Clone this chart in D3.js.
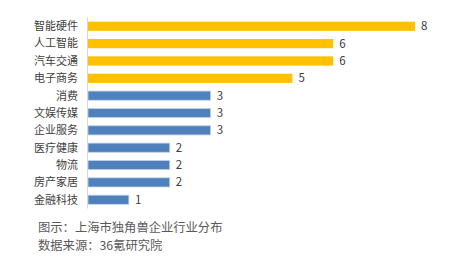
<!DOCTYPE html>
<html>
<head>
<meta charset="utf-8">
<script src="https://d3js.org/d3.v7.min.js"></script>
<style>
  body { margin: 0; background: #fff; }
  svg text { font-family: "Noto Sans CJK SC", "Noto Sans", sans-serif; }
</style>
</head>
<body>
<svg id="chart" width="459" height="262"></svg>
<script>
// industries and counts
var categories = ["智能硬件", "人工智能", "汽车交通", "电子商务", "消费", "文娱传媒", "企业服务", "医疗健康", "物流", "房产家居", "金融科技"];
var counts = [8, 6, 6, 5, 3, 3, 3, 2, 2, 2, 1];
var highlight = [true, true, true, true, false, false, false, false, false, false, false];
var captions = ["图示：上海市独角兽企业行业分布", "数据来源：36氪研究院"];

var svg = d3.select("#chart");
var plotLeft = 88, plotTop = 17.5, plotBottom = 208.5;

var x = d3.scaleLinear().domain([0, 8]).range([plotLeft, 415]);
var y = d3.scaleBand().domain(categories).range([plotTop, plotBottom]).paddingInner(0.47).paddingOuter(0.24);

// bars
svg.selectAll("rect.bar").data(categories).enter().append("rect")
  .attr("class", "bar")
  .attr("x", x(0))
  .attr("y", function(d) { return y(d); })
  .attr("width", function(d, i) { return x(counts[i]) - x(0); })
  .attr("height", y.bandwidth())
  .attr("fill", function(d, i) { return highlight[i] ? "#ffc000" : "#4f81bd"; })
  .attr("stroke", function(d, i) { return highlight[i] ? "none" : "#c6d4e8"; })
  .attr("stroke-width", 0.8);

// axis line
svg.append("line")
  .attr("x1", plotLeft - 0.5).attr("x2", plotLeft - 0.5)
  .attr("y1", plotTop).attr("y2", plotBottom)
  .attr("stroke", "#d9d9d9").attr("stroke-width", 1);

// category labels
svg.selectAll("text.cat").data(categories).enter().append("text")
  .attr("class", "cat")
  .attr("x", 78)
  .attr("y", function(d) { return y(d) + y.bandwidth() / 2; })
  .attr("dy", "0.35em")
  .attr("text-anchor", "end")
  .attr("font-size", 11)
  .attr("fill", "#404040")
  .text(function(d) { return d; });

// value labels
svg.selectAll("text.val").data(categories).enter().append("text")
  .attr("class", "val")
  .attr("x", function(d, i) { return x(counts[i]) + 6; })
  .attr("y", function(d) { return y(d) + y.bandwidth() / 2; })
  .attr("dy", "0.35em")
  .attr("font-size", 11.5)
  .attr("fill", "#404040")
  .text(function(d, i) { return counts[i]; });

// captions
svg.selectAll("text.cap").data(captions).enter().append("text")
  .attr("class", "cap")
  .attr("x", 38)
  .attr("y", function(d, i) { return 228 + i * 18; })
  .attr("dy", "0.35em")
  .attr("font-size", 12.3)
  .attr("fill", "#595959")
  .text(function(d) { return d; });
</script>
</body>
</html>
